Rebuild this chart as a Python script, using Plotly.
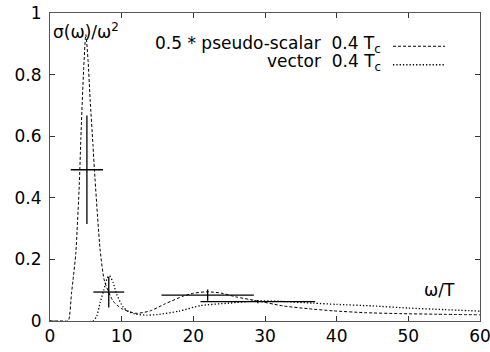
import plotly.graph_objects as go

# pseudo-scalar spectral function (drawn at 0.5 scale)
ps_w = [0, 2.0, 2.55, 3.0, 3.2, 3.6, 4.1, 4.3, 4.7, 5.0, 5.3, 5.6, 6.0, 6.2, 7.0, 7.6, 8.8,
        10.0, 12.0, 14.0, 16.0, 18.6, 20.0, 22.0, 24.0, 26.0, 28.8, 32.5, 36.0, 39.5, 44.0, 48.8, 54.0, 60.0]
ps_s = [0, 0, 0.0, 0.09, 0.13, 0.22, 0.45, 0.59, 0.82, 0.93, 0.85, 0.72, 0.57, 0.49, 0.23, 0.13, 0.065,
        0.040, 0.025, 0.033, 0.055, 0.081, 0.09, 0.095, 0.09, 0.078, 0.066, 0.049, 0.040, 0.033, 0.027, 0.024, 0.022, 0.020]

# vector spectral function
v_w = [0, 6.0, 6.5, 7.0, 7.5, 8.0, 8.3, 8.8, 9.3, 10.2, 11.0, 12.0, 13.5, 15.0, 18.0, 21.0,
       25.0, 28.8, 32.0, 36.7, 40.0, 45.0, 50.0, 55.0, 60.0]
v_s = [0, 0, 0.015, 0.06, 0.10, 0.14, 0.147, 0.125, 0.087, 0.045, 0.030, 0.022, 0.019, 0.021, 0.032, 0.050,
       0.058, 0.065, 0.064, 0.058, 0.054, 0.049, 0.042, 0.037, 0.032]

# error-bar points
err_w = [5.15, 8.2, 22.0, 29.0]
err_s = [0.491, 0.094, 0.084, 0.063]
err_dw = [2.25, 2.15, 6.45, 8.0]
err_ds = [0.176, 0.050, 0.018, 0.005]

x_ticks = [0, 10, 20, 30, 40, 50, 60]
y_ticks = [0, 0.2, 0.4, 0.6, 0.8, 1]
y_tick_text = ["0", "0.2", "0.4", "0.6", "0.8", "1"]

FONT = "DejaVu Sans"
FS = 17

fig = go.Figure()
fig.add_trace(go.Scatter(x=ps_w, y=ps_s, mode="lines", line=dict(color="black", width=1, dash="3px,2px", shape="spline", smoothing=0.6),
                         showlegend=False, hoverinfo="skip"))
fig.add_trace(go.Scatter(x=v_w, y=v_s, mode="lines", line=dict(color="black", width=1.3, dash="1.3px,2px", shape="spline", smoothing=0.6),
                         showlegend=False, hoverinfo="skip"))
fig.add_trace(go.Scatter(x=err_w, y=err_s, mode="markers", marker=dict(size=0.1, color="black"),
                         error_x=dict(type="data", array=err_dw, color="black", thickness=1.3, width=0),
                         error_y=dict(type="data", array=err_ds, color="black", thickness=1.3, width=0),
                         showlegend=False, hoverinfo="skip"))

axis_common = dict(showline=True, mirror="ticks", linecolor="#555", linewidth=1, ticks="inside", ticklen=5,
                   tickcolor="#333", tickwidth=1, showgrid=False, zeroline=False, automargin=False,
                   ticklabeloverflow="allow",
                   tickfont=dict(family=FONT, size=FS, color="black"))
fig.update_xaxes(range=[0, 60], tickvals=x_ticks, ticktext=[str(v) for v in x_ticks], **axis_common)
fig.update_yaxes(range=[0, 1], tickvals=y_ticks, ticktext=y_tick_text, ticklabelstandoff=4, **axis_common)

# legend (text right-aligned with sample line on the right, gnuplot style)
leg = [("0.5 * pseudo-scalar  0.4 T<sub>c</sub>", 0.898, "3px,2px", 1),
       ("vector  0.4 T<sub>c</sub>", 0.838, "1.3px,2px", 1.3)]
for txt, yy, dash, lw in leg:
    fig.add_annotation(x=(383 - 50) / 430, y=yy, xref="paper", yref="paper", text=txt, showarrow=False,
                       xanchor="right", yanchor="middle", font=dict(family=FONT, size=FS, color="black"))
    fig.add_shape(type="line", xref="paper", yref="paper", x0=(393 - 50) / 430, x1=(445 - 50) / 430,
                  y0=yy - 0.006, y1=yy - 0.006, line=dict(color="black", width=lw, dash=dash))

fig.add_annotation(x=0.003, y=0.985, xref="paper", yref="paper", text="σ(ω)/ω<sup>2</sup>", showarrow=False,
                   xanchor="left", yanchor="top", font=dict(family=FONT, size=FS, color="black"))
fig.add_annotation(x=(457 - 50) / 430, y=(320.7 - 290) / 308, xref="paper", yref="paper", text="ω/T", showarrow=False,
                   xanchor="right", yanchor="middle", font=dict(family=FONT, size=FS, color="black"))

fig.update_layout(width=490, height=352, margin=dict(l=50, r=10, t=13, b=31, autoexpand=False),
                  paper_bgcolor="white", plot_bgcolor="white", showlegend=False)
fig.write_html("out.html", config={"displayModeBar": False, "staticPlot": True},
               post_script="document.body.style.margin='0';document.documentElement.style.overflow='hidden';document.body.style.overflow='hidden';")
